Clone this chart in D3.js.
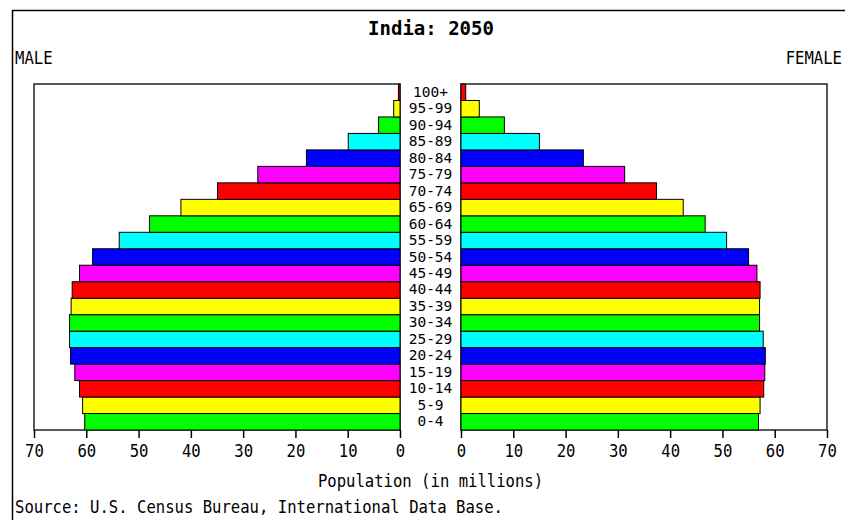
<!DOCTYPE html>
<html>
<head>
<meta charset="utf-8">
<script src="https://cdn.jsdelivr.net/npm/d3@7"></script>
<style>
  body { margin: 0; background: #fff; }
  svg { display: block; }
  text { font-family: "DejaVu Sans Mono", "Liberation Mono", monospace; fill: #000; }
</style>
</head>
<body>
<div id="chart"></div>
<script>
// age groups, bottom to top
const ages = ["0-4", "5-9", "10-14", "15-19", "20-24", "25-29", "30-34", "35-39", "40-44",
  "45-49", "50-54", "55-59", "60-64", "65-69", "70-74", "75-79", "80-84", "85-89",
  "90-94", "95-99", "100+"];
// millions
const male = [60.3, 60.7, 61.3, 62.2, 63.0, 63.2, 63.2, 62.9, 62.7, 61.3, 58.8, 53.7,
  47.9, 41.9, 34.9, 27.2, 17.9, 9.9, 4.1, 1.2, 0.3];
const female = [56.9, 57.2, 57.9, 58.1, 58.2, 57.8, 57.1, 57.1, 57.2, 56.6, 55.0, 50.8,
  46.7, 42.5, 37.4, 31.3, 23.4, 15.0, 8.3, 3.5, 0.9];
const tickVals = [0, 10, 20, 30, 40, 50, 60, 70];
const palette = ["#00ff00", "#ffff00", "#ff0000", "#ff00ff", "#0000ff", "#00ffff"];

const W = 845, H = 520;
const plotTop = 84, plotBottom = 430;
const fs = 15.6;

const svg = d3.select("#chart").append("svg")
  .attr("width", W).attr("height", H);

// frame lines (left + top)
svg.append("path")
  .attr("d", `M12.5,${H} L12.5,10.5 L${W},10.5`)
  .attr("fill", "none").attr("stroke", "#000").attr("stroke-width", 1.5);

const xL = d3.scaleLinear().domain([0, 70]).range([400, 34]);
const xR = d3.scaleLinear().domain([0, 70]).range([461, 827]);
const y = d3.scaleBand().domain(ages.slice().reverse()).range([plotTop, plotBottom]);

function label(x, yy, txt, anchor, opts) {
  opts = opts || {};
  return svg.append("text")
    .attr("transform", `translate(${x},${yy}) scale(1,${opts.sy || 1.15})`)
    .attr("text-anchor", anchor)
    .style("font-size", (opts.size || fs) + "px")
    .style("font-weight", opts.bold ? "bold" : "normal")
    .text(txt);
}

// plot boxes
[xL, xR].forEach(sc => {
  const r = sc.range();
  svg.append("rect")
    .attr("x", Math.min(r[0], r[1]))
    .attr("y", plotTop)
    .attr("width", Math.abs(r[1] - r[0]))
    .attr("height", plotBottom - plotTop)
    .attr("fill", "none")
    .attr("stroke", "#222")
    .attr("stroke-width", 1.5);
});

// bars
const rows = ages.map((a, i) => ({ age: a, m: male[i], f: female[i], c: palette[i % 6] }));

svg.append("g").selectAll("rect")
  .data(rows).enter().append("rect")
  .attr("x", d => xL(d.m))
  .attr("y", d => y(d.age))
  .attr("width", d => xL(0) - xL(d.m))
  .attr("height", y.bandwidth())
  .attr("fill", d => d.c)
  .attr("stroke", "#000").attr("stroke-width", 1);

svg.append("g").selectAll("rect")
  .data(rows).enter().append("rect")
  .attr("x", xR(0))
  .attr("y", d => y(d.age))
  .attr("width", d => xR(d.f) - xR(0))
  .attr("height", y.bandwidth())
  .attr("fill", d => d.c)
  .attr("stroke", "#000").attr("stroke-width", 1);

// age labels in the middle
rows.forEach(d => {
  label(430.5, y(d.age) + y.bandwidth() / 2 + 4.5, d.age, "middle", { size: 14.5, sy: 1.0 });
});

// axes
[xL, xR].forEach(sc => {
  const g = svg.append("g")
    .attr("transform", `translate(0,${plotBottom})`)
    .call(d3.axisBottom(sc).tickValues(tickVals).tickSize(8).tickSizeOuter(0));
  g.select(".domain").remove();
  g.selectAll("line").attr("stroke", "#000").attr("stroke-width", 1.5);
  g.selectAll("text")
    .attr("y", null).attr("dy", null)
    .attr("transform", "translate(0,27) scale(1,1.15)")
    .style("font-size", fs + "px")
    .style("font-family", "DejaVu Sans Mono, monospace")
    .attr("fill", "#000");
});

// texts
label(431, 35, "India: 2050", "middle", { size: 19, bold: true, sy: 1.05 });
label(15, 64, "MALE", "start");
label(842, 64, "FEMALE", "end");
label(430.5, 487, "Population (in millions)", "middle");
label(15, 513, "Source: U.S. Census Bureau, International Data Base.", "start");
</script>
</body>
</html>
